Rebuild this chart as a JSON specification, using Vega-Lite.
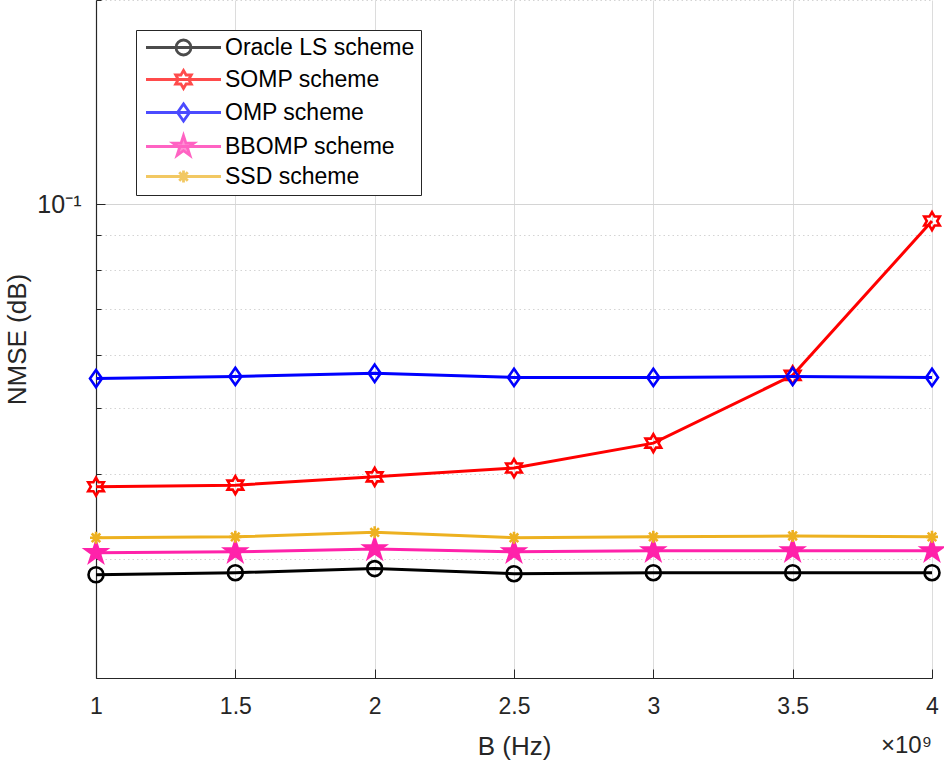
{
  "$schema": "https://vega.github.io/schema/vega-lite/v6.json",
  "width": 836,
  "height": 678,
  "autosize": {"type": "none"},
  "padding": {"left": 96, "top": 0, "right": 12, "bottom": 82},
  "background": "white",
  "config": {
    "view": {"stroke": null},
    "font": "Liberation Sans",
    "axis": {"labelFont": "Liberation Sans", "titleFont": "Liberation Sans", "labelColor": "#262626", "titleColor": "#262626", "domainColor": "#262626", "tickColor": "#262626", "titleFontWeight": "normal"}
  },
  "title": {"text": "×10⁹", "orient": "bottom", "anchor": "end", "frame": "group", "offset": -25, "fontSize": 24, "fontWeight": "normal", "color": "#262626", "font": "Liberation Sans"},
  "data": {"values": [
    {"B": 1, "series": "Oracle LS scheme", "nmse": 0.0284},
    {"B": 1.5, "series": "Oracle LS scheme", "nmse": 0.0286},
    {"B": 2, "series": "Oracle LS scheme", "nmse": 0.0290},
    {"B": 2.5, "series": "Oracle LS scheme", "nmse": 0.0285},
    {"B": 3, "series": "Oracle LS scheme", "nmse": 0.0286},
    {"B": 3.5, "series": "Oracle LS scheme", "nmse": 0.0286},
    {"B": 4, "series": "Oracle LS scheme", "nmse": 0.0286},
    {"B": 1, "series": "SOMP scheme", "nmse": 0.0383},
    {"B": 1.5, "series": "SOMP scheme", "nmse": 0.0385},
    {"B": 2, "series": "SOMP scheme", "nmse": 0.0396},
    {"B": 2.5, "series": "SOMP scheme", "nmse": 0.0408},
    {"B": 3, "series": "SOMP scheme", "nmse": 0.0444},
    {"B": 3.5, "series": "SOMP scheme", "nmse": 0.0559},
    {"B": 4, "series": "SOMP scheme", "nmse": 0.0944},
    {"B": 1, "series": "OMP scheme", "nmse": 0.0553},
    {"B": 1.5, "series": "OMP scheme", "nmse": 0.0557},
    {"B": 2, "series": "OMP scheme", "nmse": 0.0563},
    {"B": 2.5, "series": "OMP scheme", "nmse": 0.0555},
    {"B": 3, "series": "OMP scheme", "nmse": 0.0555},
    {"B": 3.5, "series": "OMP scheme", "nmse": 0.0557},
    {"B": 4, "series": "OMP scheme", "nmse": 0.0555},
    {"B": 1, "series": "BBOMP scheme", "nmse": 0.0306},
    {"B": 1.5, "series": "BBOMP scheme", "nmse": 0.0307},
    {"B": 2, "series": "BBOMP scheme", "nmse": 0.0310},
    {"B": 2.5, "series": "BBOMP scheme", "nmse": 0.0307},
    {"B": 3, "series": "BBOMP scheme", "nmse": 0.0308},
    {"B": 3.5, "series": "BBOMP scheme", "nmse": 0.0308},
    {"B": 4, "series": "BBOMP scheme", "nmse": 0.0308},
    {"B": 1, "series": "SSD scheme", "nmse": 0.0322},
    {"B": 1.5, "series": "SSD scheme", "nmse": 0.0323},
    {"B": 2, "series": "SSD scheme", "nmse": 0.0328},
    {"B": 2.5, "series": "SSD scheme", "nmse": 0.0322},
    {"B": 3, "series": "SSD scheme", "nmse": 0.0323},
    {"B": 3.5, "series": "SSD scheme", "nmse": 0.0324},
    {"B": 4, "series": "SSD scheme", "nmse": 0.0323}
  ]},
  "encoding": {
    "x": {"field": "B", "type": "quantitative",
      "scale": {"domain": [1, 4], "nice": false, "zero": false},
      "axis": {"values": [1, 1.5, 2, 2.5, 3, 3.5, 4], "labelExpr": "'' + datum.value", "labelFontSize": 23, "labelPadding": 26, "labelFlush": false, "tickSize": -9, "grid": true, "gridColor": "#dcdcdc", "gridWidth": 1, "title": "B (Hz)", "titleFontSize": 26, "titlePadding": 15, "domainWidth": 1.2}},
    "y": {"field": "nmse", "type": "quantitative",
      "scale": {"type": "log", "domain": [0.02, 0.2], "nice": false},
      "axis": {"values": [0.02, 0.03, 0.04, 0.05, 0.06, 0.07, 0.08, 0.09, 0.1, 0.2],
        "labelExpr": "datum.value == 0.1 ? '10⁻¹' : ''",
        "labelFontSize": 25, "labelPadding": 24,
        "tickSize": {"condition": {"test": "datum.value == 0.1", "value": -9}, "value": -5},
        "grid": true, "gridColor": "#d4d4d4",
        "gridDash": {"condition": {"test": "datum.value == 0.1", "value": []}, "value": [1.5, 3]},
        "title": "NMSE (dB)", "titleFontSize": 26, "titlePadding": 6, "domainWidth": 1.2}}
  },
  "layer": [
    {
      "mark": {"type": "line", "strokeWidth": 3},
      "encoding": {
        "stroke": {"field": "series", "type": "nominal", "legend": null,
          "scale": {"domain": ["Oracle LS scheme", "SOMP scheme", "OMP scheme", "BBOMP scheme", "SSD scheme"], "range": ["#000000", "#ff0000", "#0000ff", "#ff22aa", "#edb120"]}},
        "detail": {"field": "series"}
      }
    },
    {
      "mark": {"type": "point", "filled": false, "strokeWidth": 2.6, "size": 225, "opacity": 1},
      "encoding": {
        "stroke": {"field": "series", "type": "nominal", "legend": null,
          "scale": {"domain": ["Oracle LS scheme", "SOMP scheme", "OMP scheme", "BBOMP scheme", "SSD scheme"], "range": ["#000000", "#ff0000", "#0000ff", "#ff22aa", "#edb120"]}},
        "fill": {"field": "series", "type": "nominal", "legend": null,
          "scale": {"domain": ["Oracle LS scheme", "SOMP scheme", "OMP scheme", "BBOMP scheme", "SSD scheme"], "range": ["transparent", "transparent", "transparent", "#ff22aa", "transparent"]}},
        "shape": {"field": "series", "type": "nominal", "legend": null,
          "scale": {"domain": ["Oracle LS scheme", "SOMP scheme", "OMP scheme", "BBOMP scheme", "SSD scheme"], "range": [
            "M-1,0A1,1 0 1,0 1,0A1,1 0 1,0 -1,0Z",
            "M0,-1.2L0.346,-0.6L1.039,-0.6L0.693,0L1.039,0.6L0.346,0.6L0,1.2L-0.346,0.6L-1.039,0.6L-0.693,0L-1.039,-0.6L-0.346,-0.6Z",
            "M0,-1.15L0.8,0L0,1.15L-0.8,0Z",
            "M0,-1.45L0.326,-0.448L1.379,-0.448L0.526,0.171L0.853,1.173L0,0.554L-0.853,1.173L-0.526,0.171L-1.379,-0.448L-0.326,-0.448Z",
            "M-0.8,0L0.8,0M0,-0.8L0,0.8M-0.57,-0.57L0.57,0.57M-0.57,0.57L0.57,-0.57"
          ]}}
      }
    },
    {
      "transform": [{"filter": "false"}],
      "mark": {"type": "point", "filled": false, "strokeWidth": 2.8, "size": 225},
      "encoding": {
        "stroke": {"field": "series", "type": "nominal",
          "scale": {"domain": ["Oracle LS scheme", "SOMP scheme", "OMP scheme", "BBOMP scheme", "SSD scheme"], "range": ["#000000", "#ff0000", "#0000ff", "#ff22aa", "#edb120"]},
          "legend": {"title": null, "orient": "none", "legendX": 40, "legendY": 30, "padding": 6, "strokeColor": "#262626", "fillColor": "white", "labelFont": "Liberation Sans", "labelFontSize": 23, "labelLimit": 400, "labelColor": "#000000", "symbolSize": 225, "symbolStrokeWidth": 2.8, "symbolOffset": 30, "labelOffset": 30, "rowPadding": 3}},
        "fill": {"field": "series", "type": "nominal",
          "scale": {"domain": ["Oracle LS scheme", "SOMP scheme", "OMP scheme", "BBOMP scheme", "SSD scheme"], "range": ["transparent", "transparent", "transparent", "#ff22aa", "transparent"]},
          "legend": {"title": null, "orient": "none", "legendX": 40, "legendY": 30, "padding": 6, "strokeColor": "#262626", "fillColor": "white", "labelFont": "Liberation Sans", "labelFontSize": 23, "labelLimit": 400, "labelColor": "#000000", "symbolSize": 225, "symbolStrokeWidth": 2.8, "symbolOffset": 30, "labelOffset": 30, "rowPadding": 3}},
        "shape": {"field": "series", "type": "nominal",
          "scale": {"domain": ["Oracle LS scheme", "SOMP scheme", "OMP scheme", "BBOMP scheme", "SSD scheme"], "range": [
            "M-5,0L5,0M-1,0A1,1 0 1,0 1,0A1,1 0 1,0 -1,0Z",
            "M-5,0L5,0M0,-1.2L0.346,-0.6L1.039,-0.6L0.693,0L1.039,0.6L0.346,0.6L0,1.2L-0.346,0.6L-1.039,0.6L-0.693,0L-1.039,-0.6L-0.346,-0.6Z",
            "M-5,0L5,0M0,-1.15L0.8,0L0,1.15L-0.8,0Z",
            "M-5,0L5,0M0,-1.45L0.326,-0.448L1.379,-0.448L0.526,0.171L0.853,1.173L0,0.554L-0.853,1.173L-0.526,0.171L-1.379,-0.448L-0.326,-0.448Z",
            "M-5,0L5,0M-0.8,0L0.8,0M0,-0.8L0,0.8M-0.57,-0.57L0.57,0.57M-0.57,0.57L0.57,-0.57"
          ]},
          "legend": {"title": null, "orient": "none", "legendX": 40, "legendY": 30, "padding": 6, "strokeColor": "#262626", "fillColor": "white", "labelFont": "Liberation Sans", "labelFontSize": 23, "labelLimit": 400, "labelColor": "#000000", "symbolSize": 225, "symbolStrokeWidth": 2.8, "symbolOffset": 30, "labelOffset": 30, "rowPadding": 3}}
      }
    }
  ],
  "resolve": {"scale": {"stroke": "independent", "fill": "independent", "shape": "independent"}}
}
